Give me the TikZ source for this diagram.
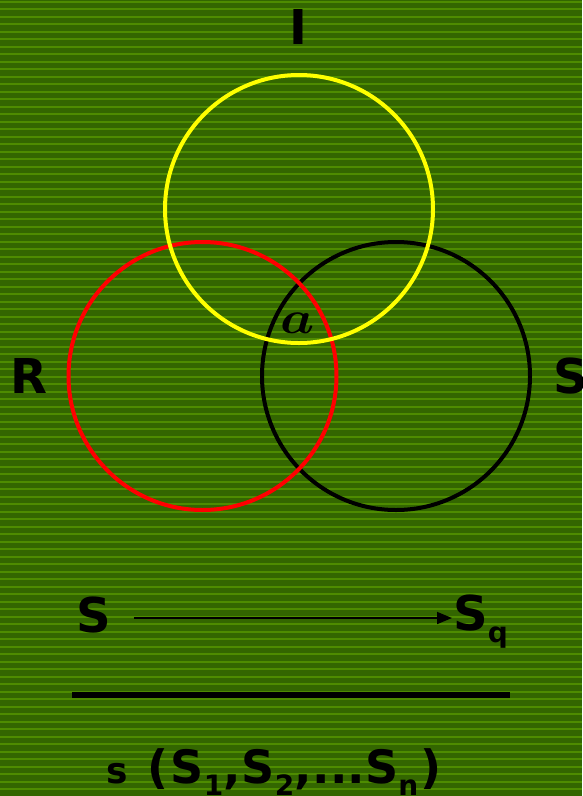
\documentclass[tikz,border=0pt]{standalone}
\usepackage{fontspec}
\setmainfont{DejaVu Sans}
\usepackage{tikz}
\usetikzlibrary{arrows.meta,positioning}
\definecolor{bgdark}{HTML}{336600}
\definecolor{bgline}{HTML}{4E8C00}
\definecolor{ylw}{HTML}{FFFF00}
\definecolor{rd}{HTML}{FF0000}
\newcommand{\bigf}{\fontsize{48}{48}\selectfont\bfseries}
\newcommand{\midf}{\fontsize{46}{46}\selectfont\bfseries}
\newcommand{\subf}[1]{\raisebox{-12pt}{\fontsize{28}{28}\selectfont\bfseries #1}}
\tikzset{ring/.style={line width=4pt},
  lbl/.style={inner sep=0pt,anchor=base west,text=black},
  arr/.style={line width=1.6pt,-{Triangle[length=15pt,width=12pt]}}}

\begin{document}
\begin{tikzpicture}[x=1pt,y=-1pt]
\useasboundingbox (0,0) rectangle (582,796);
\fill[bgdark] (0,0) rectangle (582,796);
\foreach \i in {0,...,106}{
 \fill[bgline] (0,\i*7.5+0.5) rectangle (582,\i*7.5+2.5);}

% the three sets
\draw[ring,black] (396,376) circle (134);
\draw[ring,rd] (202.5,376) circle (134);
\draw[ring,ylw] (299,209) circle (134);

\node[lbl] (li) at (289,44) {\bigf I};
\node[lbl] (lr) at (10,393) {\bigf R};
\node[lbl] (ls) at (553,393) {\bigf S};
\node[lbl] (la) at (280,333) {\scalebox{5.4}[4.6]{\boldmath$a$}};

\node[lbl] (src) at (76,632) {\bigf S};
\node[lbl] (tgt) at (453,630) {\bigf S\subf{q}};
\draw[arr] ([xshift=23pt,yshift=14pt]src.base east) -- ([xshift=-1pt,yshift=12pt]tgt.base west);

\coordinate (b0) at (72,695);
\coordinate (b1) at (510,695);
\draw[line width=6pt] (b0) -- (b1);

\node[lbl] (set) at (106,783) {{\fontsize{36}{36}\selectfont\bfseries s}\hspace{20pt}{\midf (\hspace{2pt}S\subf{1},\hspace{1pt}S\subf{2},\hspace{1pt}...S\subf{n}\hspace{2pt})}};
\end{tikzpicture}
\end{document}
